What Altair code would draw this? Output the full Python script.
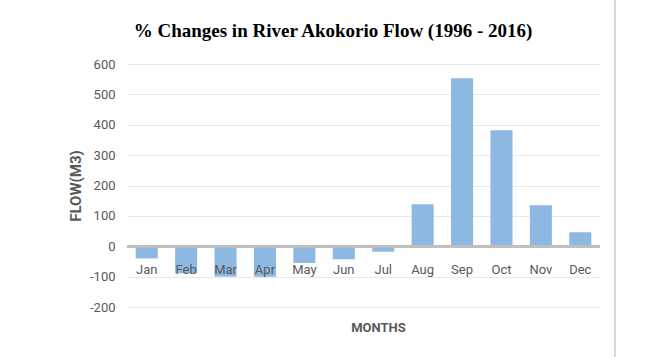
import altair as alt
import pandas as pd

months = ["Jan", "Feb", "Mar", "Apr", "May", "Jun", "Jul", "Aug", "Sep", "Oct", "Nov", "Dec"]
values = [-40, -89, -100, -100, -55, -43, -18, 138, 553, 382, 135, 46]
tick_values = [-200, -100, 0, 100, 200, 300, 400, 500, 600]
title_text = "% Changes in River Akokorio Flow (1996 - 2016)"

df = pd.DataFrame({"month": months, "value": values, "z": [0] * len(months)})

FONT = "Roboto, sans-serif"
GRAY = "#595959"

x_axis = alt.Axis(labels=False, ticks=False, domain=False, grid=False,
                  title="MONTHS", titleFont=FONT, titleFontSize=13,
                  titleFontWeight="bold", titleColor=GRAY, titlePadding=14,
                  titleX=251)
y_axis = alt.Axis(values=tick_values, labelOverlap=False,
                  labelExpr="'' + datum.value",
                  domain=False, ticks=False, gridColor="#e9e9e9",
                  labelFont=FONT, labelFontSize=13, labelColor=GRAY,
                  labelPadding=12, title="FLOW(M3)", titleFont=FONT,
                  titleFontSize=15, titleFontWeight="bold", titleColor=GRAY,
                  titlePadding=6)
x_scale = alt.Scale(paddingInner=0.44, paddingOuter=0.22)
y_scale = alt.Scale(domain=[-200, 600], nice=False)

base = alt.Chart(df)

bars = base.mark_bar(color="#8db8e2").encode(
    x=alt.X("month:N", sort=months, scale=x_scale, axis=x_axis),
    y=alt.Y("value:Q", scale=y_scale, axis=y_axis),
)

zero = base.mark_rule(color="#bfbfbf", strokeWidth=2).encode(
    y=alt.Y("z:Q", scale=y_scale, axis=y_axis)
)

labels = base.mark_text(baseline="middle", dy=24, font=FONT, fontSize=13, color=GRAY).encode(
    x=alt.X("month:N", sort=months, scale=x_scale, axis=x_axis),
    y=alt.Y("z:Q", scale=y_scale, axis=y_axis),
    text="month:N",
)

border = base.mark_rule(color="#d9d9d9", strokeWidth=2, clip=False).encode(
    x=alt.value(488), y=alt.value(-64), y2=alt.value(293)
)

title = alt.Chart(pd.DataFrame({"t": [title_text]})).mark_text(
    font="Liberation Serif", fontSize=19, fontWeight="bold", color="#000000",
    align="center", baseline="alphabetic", clip=False
).encode(x=alt.value(206), y=alt.value(-27), text="t:N")

chart = alt.layer(bars, zero, labels, border, title).properties(
    width=473, height=243,
    padding={"left": 127, "top": 64, "right": 49, "bottom": 50},
    autosize=alt.AutoSizeParams(type="none"),
    background="white",
).configure_view(strokeWidth=0, stroke="transparent")

chart.save("out.html", embed_options={"renderer": "svg", "actions": False})
